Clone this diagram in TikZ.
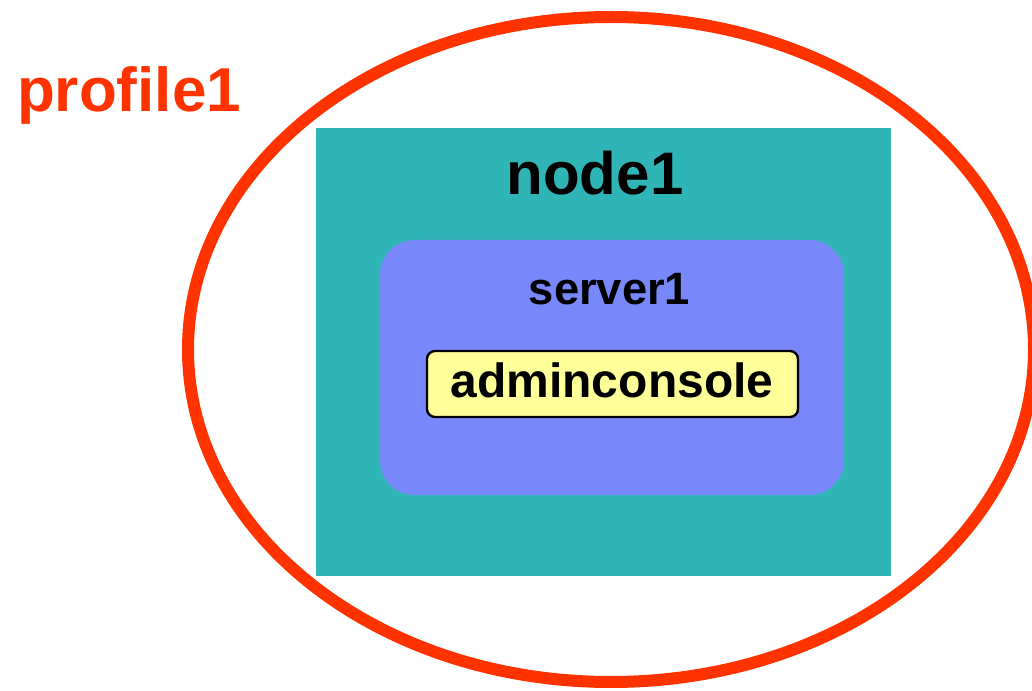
\documentclass[tikz,border=0pt]{standalone}
\usepackage{fontspec}
\setmainfont{Liberation Sans}
\usetikzlibrary{shapes.geometric}
\definecolor{profred}{RGB}{255,51,0}
\definecolor{nodeteal}{RGB}{47,181,181}
\definecolor{servblue}{RGB}{120,136,250}
\definecolor{appyellow}{RGB}{255,255,153}
\tikzset{
  profileshape/.style={ellipse, draw=profred, line width=9pt, inner sep=0pt},
  nodebox/.style={rectangle, fill=nodeteal, draw=none, inner sep=0pt},
  serverbox/.style={rectangle, fill=servblue, draw=none, rounded corners=26pt, inner sep=0pt},
  appbox/.style={rectangle, fill=appyellow, draw=black, line width=1.8pt, rounded corners=6pt, inner sep=0pt},
  lbl/.style={inner sep=0pt, anchor=base, font=\bfseries}
}
\begin{document}
\begin{tikzpicture}[x=0.75pt,y=-0.75pt]
\useasboundingbox (0,0) rectangle (1032,691);
\node[profileshape, minimum width=634.5pt, minimum height=498.75pt] (profile) at (611,349.5) {};
\node[nodebox, minimum width=431.25pt, minimum height=336pt] (node) at (603.5,352) {};
\node[serverbox, minimum width=348pt, minimum height=191.25pt] (server) at (612,367.5) {};
\node[appbox, minimum width=278.25pt, minimum height=49.5pt] (app) at (612.5,384) {};
\node[lbl, text=profred, font=\bfseries\fontsize{46.5}{50}\selectfont] (profilelbl) at (129,112) {profile1};
\node[lbl, font=\bfseries\fontsize{45}{50}\selectfont] (nodelbl) at (595,195) {node1};
\node[lbl, font=\bfseries\fontsize{34}{40}\selectfont] (serverlbl) at (609.5,305) {server1};
\node[lbl, font=\bfseries\fontsize{36}{40}\selectfont] (applbl) at (612,397.5) {adminconsole};
\end{tikzpicture}
\end{document}
